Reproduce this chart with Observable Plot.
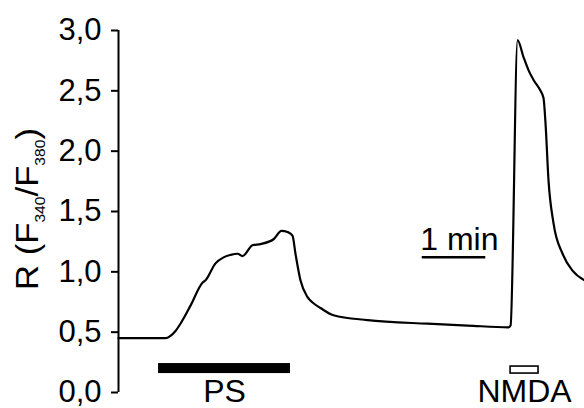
<!DOCTYPE html>
<html>
<head>
<meta charset="utf-8">
<script src="https://cdn.jsdelivr.net/npm/d3@7"></script>
<script src="https://cdn.jsdelivr.net/npm/@observablehq/plot@0.6"></script>
<style>
  html, body { margin: 0; padding: 0; background: white; }
</style>
</head>
<body>
<div id="chart"></div>
<script>
// Time (s) and fluorescence ratio R (F340/F380)
const time  = [0, 44.4, 49.1, 53.8, 58.5, 68.0, 79.3, 82.2, 91.6, 99.2, 105.8, 112.4, 117.1, 126.5, 134.1, 146.4, 153.9, 159.6, 164.3, 167.1, 171.8, 178.5, 184.1, 190.7, 203.0, 235.1, 291.8, 329.6, 368.3, 370.2, 376.8, 382.4, 387.2, 391.9, 398.5, 401.3, 403.2, 406.0, 410.8, 419.3, 428.7, 440.0];
const ratio = [0.45, 0.45, 0.47, 0.51, 0.57, 0.72, 0.91, 0.93, 1.07, 1.12, 1.14, 1.15, 1.13, 1.22, 1.23, 1.27, 1.34, 1.33, 1.30, 1.15, 0.93, 0.79, 0.74, 0.70, 0.64, 0.60, 0.57, 0.555, 0.54, 0.555, 2.92, 2.78, 2.67, 2.59, 2.50, 2.44, 2.23, 1.76, 1.40, 1.15, 1.01, 0.93];

const yTicks = [0, 0.5, 1.0, 1.5, 2.0, 2.5, 3.0];

// Stimulus application periods (s)
const stimLabels = ["PS", "NMDA"];
const stimStart  = [37.8, 370.2];
const stimEnd    = [162.4, 396.6];

// Time scale bar
const scaleLabel = "1 min";
const scaleStart = 286.8;
const scaleLen   = 60;
const scaleLevel = 1.12;

const font = "'Liberation Sans', Arial, Helvetica, sans-serif";
const trace = time.map((t, i) => ({t, r: ratio[i]}));

const svg = Plot.plot({
  width: 584,
  height: 408,
  marginLeft: 118,
  marginRight: 0,
  marginTop: 30,
  marginBottom: 16,
  x: {domain: [0, 440], axis: null},
  y: {domain: [0, 3]},
  style: {fontFamily: font, fontSize: "31px", color: "black", background: "white", overflow: "visible"},
  marks: [
    Plot.axisY({
      ticks: yTicks,
      tickFormat: d => d.toFixed(1).replace(".", ","),
      tickSize: 7,
      tickPadding: 10,
      strokeWidth: 2,
      fontSize: 31,
      label: null
    }),
    Plot.ruleX([0], {y1: 0, y2: 3, strokeWidth: 2}),
    Plot.line(trace, {x: "t", y: "r", stroke: "black", strokeWidth: 2.2, curve: "monotone-x"}),
    // PS bar (filled)
    Plot.rect([0], {x1: i => stimStart[i], x2: i => stimEnd[i], y1: 0.157, y2: 0.24, fill: "black"}),
    // NMDA bar (open)
    Plot.rect([1], {x1: i => stimStart[i], x2: i => stimEnd[i], y1: 0.157, y2: 0.215, fill: "white", stroke: "black", strokeWidth: 1.6}),
    Plot.text([0, 1], {
      x: i => (stimStart[i] + stimEnd[i]) / 2,
      y: 0,
      text: i => stimLabels[i],
      dy: 9,
      lineAnchor: "bottom",
      textAnchor: "middle",
      fontSize: 32,
      fill: "black"
    }),
    Plot.ruleY([scaleLevel], {x1: scaleStart, x2: scaleStart + scaleLen, strokeWidth: 2.5}),
    Plot.text([scaleLabel], {
      x: scaleStart, y: scaleLevel, text: d => d,
      textAnchor: "start", lineAnchor: "bottom", dy: -7, dx: -2,
      fontSize: 32, fill: "black"
    })
  ]
});

// Y-axis title with subscripts
const lab = d3.select(svg).append("text")
  .attr("transform", "translate(38,209) rotate(-90)")
  .attr("text-anchor", "middle")
  .attr("font-family", font)
  .attr("font-size", 31)
  .attr("fill", "black")
  .attr("textLength", 162)
  .attr("lengthAdjust", "spacingAndGlyphs");
lab.append("tspan").text("R (F");
lab.append("tspan").attr("font-size", 14).attr("dy", 7).text("340");
lab.append("tspan").attr("dy", -7).text("/F");
lab.append("tspan").attr("font-size", 14).attr("dy", 7).text("380");
lab.append("tspan").attr("dy", -7).text(")");

document.getElementById("chart").appendChild(svg);
</script>
</body>
</html>
